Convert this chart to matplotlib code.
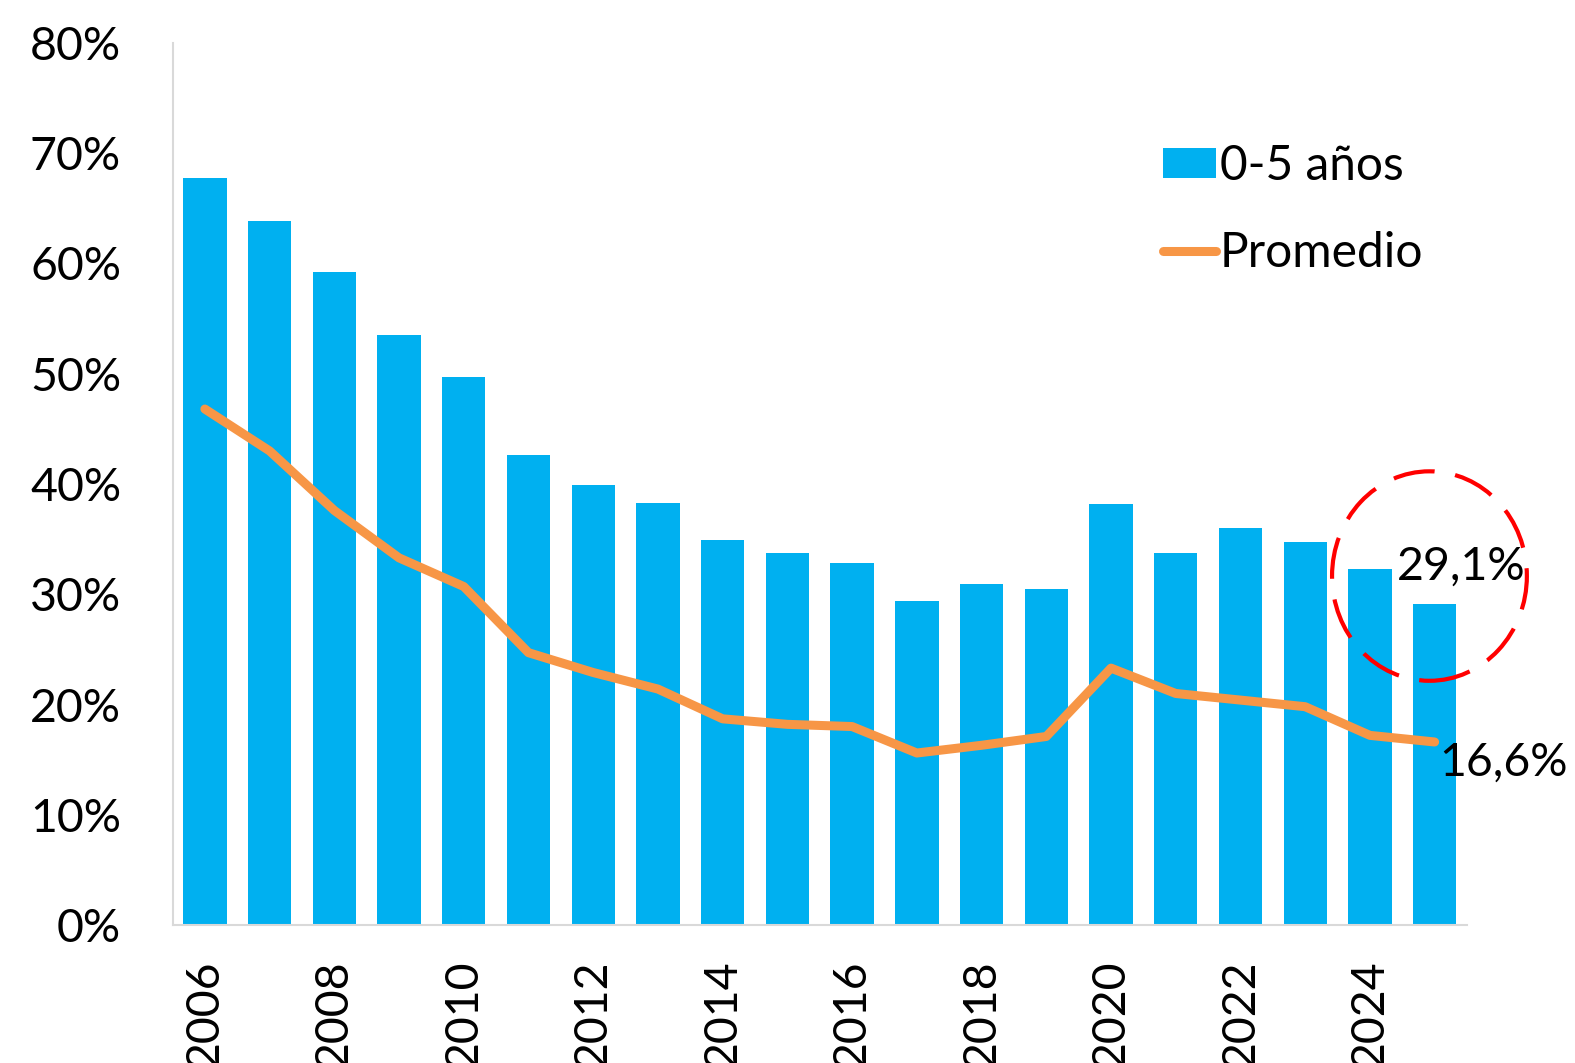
import matplotlib
matplotlib.use("Agg")
import matplotlib.pyplot as plt
from matplotlib.patches import Ellipse
from matplotlib.ticker import FuncFormatter

plt.rcParams['font.family'] = ['Lato', 'DejaVu Sans']

years = list(range(2006, 2026))
bars_0_5 = [67.8, 63.9, 59.2, 53.5, 49.7, 42.6, 39.9, 38.3, 34.9, 33.7,
            32.8, 29.4, 30.9, 30.5, 38.2, 33.7, 36.0, 34.7, 32.3, 29.1]
promedio = [46.8, 43.0, 37.6, 33.3, 30.7, 24.7, 22.9, 21.4, 18.7, 18.2,
            18.0, 15.6, 16.3, 17.1, 23.3, 21.0, 20.4, 19.8, 17.2, 16.6]
tick_years = [str(y) for y in range(2006, 2026, 2)]
label_bar = "29,1%"
label_line = "16,6%"

W, H = 1575, 1063
fig = plt.figure(figsize=(W / 100, H / 100), dpi=100)
ax = fig.add_axes([172.5 / W, 138 / H, (1467 - 172.5) / W, (925 - 43) / H])

x = list(range(len(years)))
hb = ax.bar(x, bars_0_5, width=0.67, color='#00B0F0', label='0-5 años', zorder=2)
hl, = ax.plot(x, promedio, color='#F79646', lw=6.5, solid_capstyle='round',
              solid_joinstyle='round', label='Promedio', zorder=3)

ax.set_xlim(-0.5, len(years) - 0.5)
ax.set_ylim(0, 80)
ax.set_yticks(range(0, 81, 10))
ax.yaxis.set_major_formatter(FuncFormatter(lambda v, p: f"{int(v)}%"))
ax.set_xticks([years.index(int(t)) for t in tick_years])
ax.set_xticklabels(tick_years, rotation=90, va='top', ha='center')
ax.tick_params(axis='both', length=0, labelsize=33.5)
ax.tick_params(axis='y', pad=37)
ax.tick_params(axis='x', pad=25)

for s in ['top', 'right']:
    ax.spines[s].set_visible(False)
for s in ['left', 'bottom']:
    ax.spines[s].set_color('#d9d9d9')
    ax.spines[s].set_linewidth(1.5)

# annotations
ax.annotate(label_bar, xy=(x[-1], bars_0_5[-1]), xytext=(-27, 27),
            textcoords='offset points', fontsize=33.5, ha='left', va='center')
ax.annotate(label_line, xy=(x[-1], promedio[-1]), xytext=(3, -15),
            textcoords='offset points', fontsize=33.5, ha='left', va='center')

ell = Ellipse((18.92, 31.65), 3.01, 19.0, fill=False, edgecolor='#FF0000',
              lw=3, linestyle=(0, (10, 5)), zorder=4, clip_on=False)
ax.add_patch(ell)

leg = ax.legend([hb, hl], ['0-5 años', 'Promedio'], loc='upper left',
                bbox_to_anchor=(1163 / W, 1 - 144 / H),
                bbox_transform=fig.transFigure, frameon=False, fontsize=34.5,
                handlelength=1.1, handleheight=0.6, handletextpad=0.08,
                labelspacing=0.9, borderpad=0, borderaxespad=0)

fig.savefig('out.png', dpi=100)
